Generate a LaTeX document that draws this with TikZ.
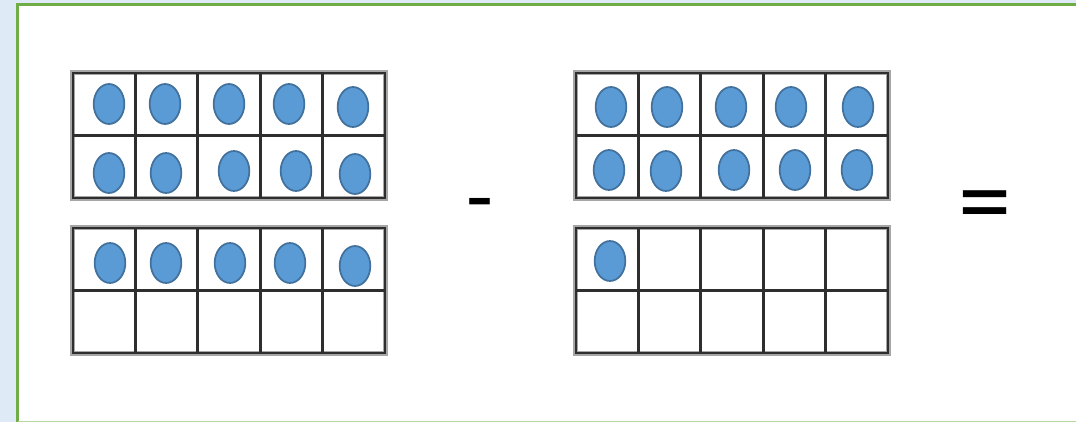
\documentclass[tikz,border=0pt]{standalone}
\usetikzlibrary{shapes.geometric}
\usepackage{fontspec}
\setmainfont{Carlito}
\definecolor{bgblue}{HTML}{DEEAF6}
\definecolor{frgreen}{HTML}{70AD47}
\definecolor{lgreen}{HTML}{B5D69C}
\definecolor{dotfill}{HTML}{5B9BD5}
\definecolor{dotline}{HTML}{41719C}
\tikzset{
  gridshadow/.style={draw=black!35, line width=4.8pt},
  gridline/.style={draw=black!82, line width=2pt},
  counter/.style={ellipse, draw=dotline, fill=dotfill, line width=1.3pt, minimum width=23pt, minimum height=30pt, inner sep=0pt},
  minussign/.style={font=\fontsize{66}{70}\selectfont, inner sep=0pt},
  equalsign/.style={font=\fontsize{80}{84}\selectfont, inner sep=0pt}
}
\newcommand\tenframe[2]{%
  \begin{scope}[shift={(#1,#2)}]
    \draw[gridshadow] (0,0) rectangle (312,125);
    \draw[gridshadow] (0,62.5) -- (312,62.5);
    \foreach \c in {1,...,4} \draw[gridshadow] (\c*62.4,0) -- (\c*62.4,125);
    \fill[white] (2,2) rectangle (310,123);
    \draw[gridline] (0,0) rectangle (312,125);
    \draw[gridline] (0,62.5) -- (312,62.5);
    \foreach \c in {1,...,4} \draw[gridline] (\c*62.4,0) -- (\c*62.4,125);
  \end{scope}}
\begin{document}
\begin{tikzpicture}[x=0.75pt,y=-0.75pt]
\useasboundingbox (0,0) rectangle (1076,422);
\fill[bgblue] (0,0) rectangle (1076,422);
\fill[white] (17,4) rectangle (1076,422);
\draw[frgreen, line width=1.6pt] (17.5,422) -- (17.5,4.5) -- (1076,4.5);
\draw[lgreen, line width=1.2pt] (18,421.3) -- (1076,421.3);
\tenframe{73}{73}
\tenframe{73}{228}
\tenframe{576}{73}
\tenframe{576}{228}
\foreach \x/\y [count=\k] in {109/104,165/104,229/104,289/104,353/107,
  109/173,166/173,234/171,296/171,355/174,
  110/263,166/263,230/263,290/263,355/266,
  611/107,667/107,731/107,791/107,858/107,
  609/170,666/171,734/170,795/170,857/170,
  610/261}
  \node[counter] (d\k) at (\x,\y) {};
\node[minussign] (minus) at (480,212) {-};
\node[equalsign] (equals) at (985,214) {=};
\end{tikzpicture}
\end{document}
